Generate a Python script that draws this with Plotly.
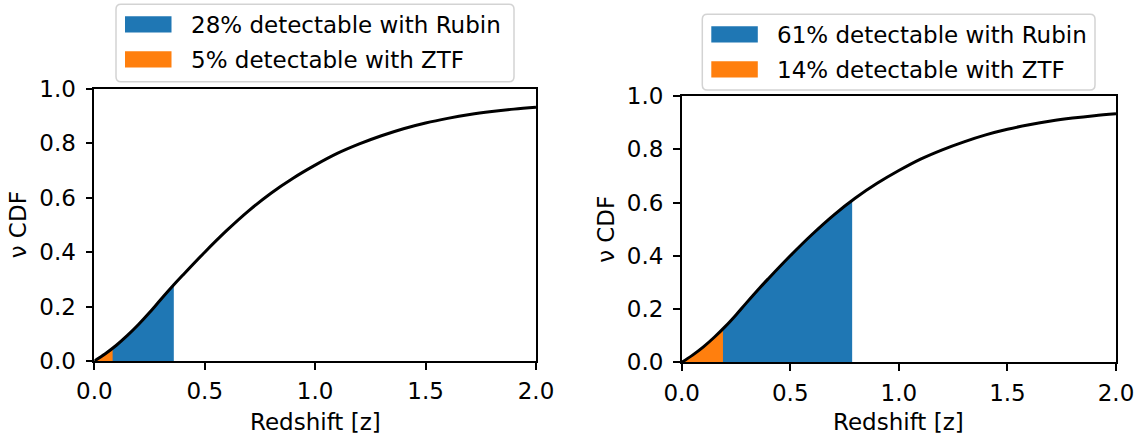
import numpy as np
import plotly.graph_objects as go

# ---- data ----
redshift = [0.0, 0.05, 0.1, 0.15, 0.2, 0.25, 0.3, 0.36, 0.4, 0.5, 0.6, 0.7, 0.8, 0.9,
            1.0, 1.1, 1.2, 1.3, 1.4, 1.5, 1.6, 1.7, 1.8, 1.9, 2.0]
nu_cdf = [0.0, 0.027, 0.058, 0.094, 0.134, 0.178, 0.225, 0.28, 0.315, 0.40, 0.48, 0.553,
          0.617, 0.672, 0.72, 0.763, 0.798, 0.828, 0.854, 0.875, 0.892, 0.906, 0.917, 0.926, 0.933]

panels = ["left", "right"]
rubin_zmax = [0.36, 0.785]
ztf_zmax = [0.083, 0.19]
rubin_pct = [28, 61]
ztf_pct = [5, 14]

x_ticks = [0.0, 0.5, 1.0, 1.5, 2.0]
y_ticks = [0.0, 0.2, 0.4, 0.6, 0.8, 1.0]

BLUE = "#1f77b4"
ORANGE = "#ff7f0e"
FONT = "DejaVu Sans"
W, H = 1138, 439

def px(x):
    return x / W

def py(y):
    return 1 - y / H

def fill_part(zmax):
    z = np.array(redshift)
    c = np.array(nu_cdf)
    keep = z < zmax
    xs = list(z[keep]) + [zmax]
    ys = list(c[keep]) + [float(np.interp(zmax, z, c))]
    return xs, ys

fig = go.Figure()

axis_refs = [("x", "y"), ("x2", "y2")]
for i, (xr, yr) in enumerate(axis_refs):
    xs, ys = fill_part(rubin_zmax[i])
    fig.add_trace(go.Scatter(x=xs, y=ys, xaxis=xr, yaxis=yr, mode="lines",
                             line=dict(width=0, color=BLUE, shape="spline"),
                             fill="tozeroy", fillcolor=BLUE, showlegend=False,
                             hoverinfo="skip"))
    xs, ys = fill_part(ztf_zmax[i])
    fig.add_trace(go.Scatter(x=xs, y=ys, xaxis=xr, yaxis=yr, mode="lines",
                             line=dict(width=0, color=ORANGE, shape="spline"),
                             fill="tozeroy", fillcolor=ORANGE, showlegend=False,
                             hoverinfo="skip"))
    fig.add_trace(go.Scatter(x=redshift, y=nu_cdf, xaxis=xr, yaxis=yr, mode="lines",
                             line=dict(width=3, color="black", shape="spline"),
                             showlegend=False))

axis_common = dict(showline=True, linecolor="black", linewidth=1.5, mirror=True,
                   ticks="outside", ticklen=7, tickwidth=1.5, tickcolor="black",
                   showgrid=False, zeroline=False, automargin=False,
                   tickfont=dict(family=FONT, size=23, color="black"))

# pixel boxes of the two axes: (left, right, top, bottom)
boxes = [(94.3, 536, 89, 361), (681.7, 1116, 96, 362.3)]

layout_axes = {}
for i, (l, r, t, b) in enumerate(boxes):
    sx = "" if i == 0 else str(i + 1)
    layout_axes["xaxis" + sx] = dict(axis_common, domain=[px(l), px(r)], range=[0, 2],
                                     tickvals=x_ticks, tickformat=".1f",
                                     anchor="y" + sx, ticklabelstandoff=2)
    layout_axes["yaxis" + sx] = dict(axis_common, domain=[py(b), py(t)], range=[0, 1],
                                     tickvals=y_ticks, tickformat=".1f",
                                     anchor="x" + sx, ticklabelstandoff=5)

fig.update_layout(width=W, height=H,
                  margin=dict(l=0, r=0, t=0, b=0, pad=0, autoexpand=False),
                  plot_bgcolor="white", paper_bgcolor="white", **layout_axes)

# axis titles
annotations = []
for i, (l, r, t, b) in enumerate(boxes):
    annotations.append(dict(text="Redshift [z]", x=px((l + r) / 2), y=py(422),
                            xref="paper", yref="paper", xanchor="center", yanchor="middle",
                            showarrow=False, font=dict(family=FONT, size=23, color="black")))
    annotations.append(dict(text="ν CDF", x=px(l - 76), y=py((t + b) / 2),
                            xref="paper", yref="paper", xanchor="center", yanchor="middle",
                            textangle=-90, showarrow=False,
                            font=dict(family=FONT, size=23, color="black")))

# legends drawn as boxes + patches + text
legend_boxes = [(116, 514, 4.3, 81.7), (702.3, 1095, 14.3, 90)]
shapes = []

def rounded_path(l, r, t, b, rad=5):
    L, R, T, B = px(l), px(r), py(t), py(b)
    rx, ry = rad / W, rad / H
    return (f"M{L+rx},{T} L{R-rx},{T} Q{R},{T} {R},{T-ry} L{R},{B+ry} Q{R},{B} {R-rx},{B} "
            f"L{L+rx},{B} Q{L},{B} {L},{B+ry} L{L},{T-ry} Q{L},{T} {L+rx},{T} Z")

for i, (l, r, t, b) in enumerate(legend_boxes):
    shapes.append(dict(type="path", xref="paper", yref="paper", path=rounded_path(l, r, t, b),
                       line=dict(color="#d3d3d3", width=1.5), fillcolor="rgba(255,255,255,0.8)",
                       layer="above"))
    rows = [(BLUE, f"{rubin_pct[i]}% detectable with Rubin", t + 12),
            (ORANGE, f"{ztf_pct[i]}% detectable with ZTF", t + 47)]
    for color, label, top in rows:
        shapes.append(dict(type="rect", xref="paper", yref="paper",
                           x0=px(l + 9), x1=px(l + 55.5), y0=py(top), y1=py(top + 16.3),
                           fillcolor=color, line=dict(width=0), layer="above"))
        annotations.append(dict(text=label, x=px(l + 73), y=py(top + 8.5),
                                xref="paper", yref="paper", xanchor="left", yanchor="middle",
                                showarrow=False,
                                font=dict(family=FONT, size=23, color="black")))

fig.update_layout(shapes=shapes, annotations=annotations)

fig.write_html("out.html")
